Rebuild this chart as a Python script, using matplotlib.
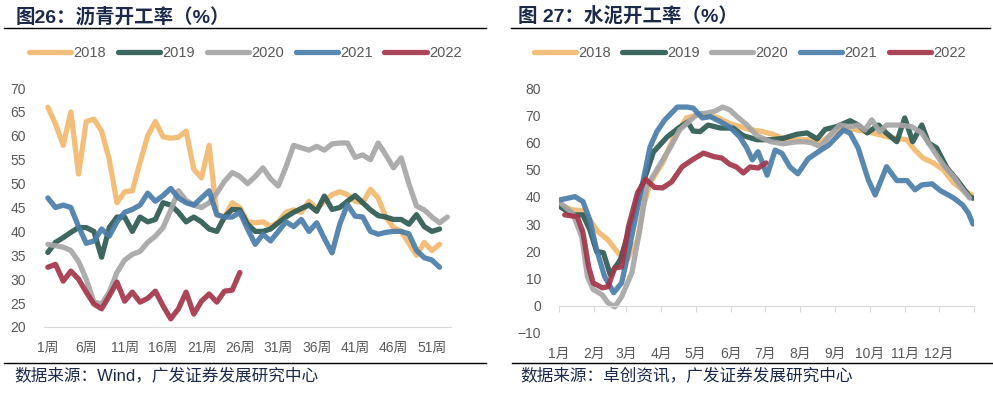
import matplotlib.pyplot as plt
from matplotlib.lines import Line2D

plt.rcParams['font.family'] = ['Liberation Sans', 'Noto Sans CJK SC']

# ---- data: 沥青开工率 (weekly) ----
asphalt_2018 = [66, 62.5, 58, 65, 52, 63, 63.5, 61, 55, 46, 48.3, 48.5, 54.4, 60, 63, 59.8, 59.5,
                59.7, 61, 53, 51.2, 58, 43.5, 43, 46, 45, 42, 41.8, 42, 41, 42, 44, 44.5, 44, 46.3,
                44.8, 46.3, 47.7, 48.3, 47.7, 46.3, 46, 48.8, 47, 43, 40.8, 40, 37.5, 35, 37.7, 36, 37.3]
asphalt_2019 = [35.6, 37.7, 38.7, 39.8, 40.8, 40.8, 40, 34.6, 40.8, 43, 43, 40, 43, 42, 42.5, 46,
                45.5, 44, 42, 43, 42, 40.5, 40, 43, 44.6, 44.5, 41.5, 40, 40, 40.5, 41.8, 43, 44,
                44.8, 45.5, 44.2, 47.4, 44.6, 45, 46.3, 47.5, 46, 44.5, 43.3, 43, 42.5, 42.5, 41.5,
                43.5, 41, 40, 40.5]
asphalt_2020 = [37.3, 37, 36.7, 36, 33.7, 30, 25.2, 24.8, 27.3, 31.4, 34, 35.2, 35.8, 37.7, 39,
                40.8, 44.5, 48.5, 46.5, 45.5, 45, 46, 48, 50.5, 52.3, 51.5, 50, 51.5, 53.3, 51, 49.5,
                53.5, 58, 57.5, 57, 57.8, 57, 58.3, 58.5, 58.5, 55.5, 56, 55, 58.5, 56, 53.3, 55.4,
                50, 45.3, 44.5, 43, 41.8, 43]
asphalt_2021 = [47, 45, 45.5, 45, 41, 37.5, 38, 40.5, 39, 42, 44, 44.6, 45.5, 48, 46.3, 47.5, 49,
                47, 46, 45.5, 47, 48.5, 43.5, 43, 43, 44, 40.5, 37.3, 39.4, 38, 40, 42, 41, 42.5, 40,
                41.8, 38.5, 35.5, 41.5, 45.6, 43.2, 43, 40, 39.4, 39.8, 40, 40, 39.5, 36, 34.5, 34,
                32.5]
asphalt_2022 = [32.5, 33.1, 29.6, 31.7, 30, 27.3, 24.8, 23.8, 26.5, 29.4, 25.4, 27.3, 25.2, 26,
                27.5, 24.4, 21.7, 23.8, 27.3, 22.7, 25.4, 26.9, 25.2, 27.5, 27.7, 31.4]
week_ticks = [0, 5, 10, 15, 20, 25, 30, 35, 40, 45, 50]
week_labels = ['1周', '6周', '11周', '16周', '21周', '26周', '31周', '36周', '41周', '46周', '51周']

# ---- data: 水泥开工率 (day of year, value) ----
cem18_day = [1, 12, 20, 27, 34, 43, 52, 60, 69, 74, 80, 91, 100, 112, 124, 139, 150, 165, 179, 188,
             197, 212, 223, 230, 241, 253, 262, 271, 282, 294, 306, 313, 320, 329, 338, 347, 355, 363]
cem18_val = [37, 35.2, 35, 31.6, 27.3, 24.2, 19.4, 17, 24.2, 36.3, 45.1, 52.5, 61, 69, 70.5, 69.2,
             67, 65, 64, 63, 61.5, 61, 61, 60, 63.5, 65.3, 64.6, 64, 62.8, 61.6, 61, 57.2, 54.3,
             52.5, 49.9, 45.1, 42.6, 40.7]
cem19_day = [1, 12, 21, 27, 33, 39, 45, 54, 61, 71, 83, 95, 105, 113, 118, 124, 131, 142, 153, 162,
             174, 186, 197, 209, 218, 227, 234, 244, 256, 263, 271, 281, 288, 297, 304, 311, 319,
             325, 332, 341, 350, 361, 364]
cem19_val = [36.4, 33.4, 33.4, 28, 20, 19.5, 11.4, 17, 27, 41.5, 56.5, 62, 65.3, 67.5, 64.2, 64,
             66.4, 65.3, 65.3, 62.5, 61, 61, 61.5, 63, 63.5, 61.3, 64.8, 65.8, 68, 66.4, 63.5, 66.4,
             63.4, 60.3, 69, 60.3, 66.4, 59.8, 58, 50.7, 46.2, 40.1, 39.5]
cem20_day = [1, 12, 20, 25, 30, 38, 43, 49, 55, 64, 71, 77, 86, 98, 106, 115, 122, 130, 137, 144,
             150, 156, 165, 174, 186, 197, 208, 215, 221, 230, 240, 247, 256, 263, 269, 275, 282,
             288, 300, 310, 319, 329, 338, 347, 355, 361]
cem20_val = [37.8, 34, 25.3, 10.6, 6, 4, 1.1, -0.4, 3.3, 12.1, 28, 43.7, 50, 58.3, 64.6, 68, 70.5,
             70.8, 71.5, 73, 72, 69.7, 66.5, 62.5, 60.3, 59.5, 60.2, 60.3, 60, 58.5, 63.5, 66.4,
             65.8, 66.4, 64.6, 68.3, 64, 66.4, 66.4, 65.8, 63.5, 57.2, 51.7, 47.4, 42.6, 39.6]
cem21_day = [1, 14, 21, 27, 33, 40, 48, 55, 62, 71, 80, 86, 93, 104, 113, 118, 126, 133, 142, 150,
             159, 165, 170, 175, 183, 190, 196, 203, 210, 219, 228, 237, 250, 256, 263, 272, 278,
             288, 297, 306, 313, 319, 328, 335, 347, 355, 360, 364]
cem21_val = [38.9, 40.1, 38.3, 31.6, 20.6, 10.8, 4.8, 8.4, 21.7, 40, 58.3, 64, 68.3, 73, 73, 72.6,
             69, 69.5, 67.6, 65.7, 62, 58, 53.6, 56.6, 48, 57.2, 56, 51, 48.5, 54, 56.6, 59, 64.6,
             63.4, 58, 46.2, 40.7, 51.1, 46, 46, 42.6, 44.4, 44.8, 42.4, 39.6, 37, 34, 30]
cem22_day = [5, 16, 21, 26, 30, 38, 43, 49, 55, 61, 69, 76, 84, 91, 99, 108, 117, 127, 136, 143,
             150, 156, 162, 168, 175, 182]
cem22_val = [33.4, 32.7, 27, 14.3, 8.4, 6.6, 7, 13.9, 14.3, 29, 41.5, 46.5, 43.5, 43.3, 45.5, 51,
             53.6, 56.1, 54.8, 54.3, 52, 51, 48.8, 51, 50.6, 52.5]
month_days = [0, 31, 59, 90, 120, 151, 181, 212, 243, 273, 304, 334, 365]
month_labels = ['1月', '2月', '3月', '4月', '5月', '6月', '7月', '8月', '9月', '10月', '11月', '12月']

years = ['2018', '2019', '2020', '2021', '2022']
colors = ['#F3B96F', '#2D5A52', '#A6A6A6', '#4A7DAA', '#A3364A']
navy = '#1B2A4A'
gray_txt = '#595959'
lw = 3.8

fig = plt.figure(figsize=(9.93, 3.93), dpi=100)

# ---------- left panel ----------
ax1 = fig.add_axes([0.0443, 0.168, 0.41, 0.608])
for vals, c, lab in zip([asphalt_2018, asphalt_2019, asphalt_2020, asphalt_2021, asphalt_2022],
                        colors, years):
    ax1.plot(range(len(vals)), vals, color=c, lw=lw, alpha=0.92, label=lab,
             solid_capstyle='round', solid_joinstyle='round')
ax1.set_xlim(-0.5, 52.5)
ax1.set_ylim(20, 70)
ax1.set_yticks(range(20, 71, 5))
ax1.set_xticks(week_ticks, week_labels)
for s in ['top', 'right', 'left']:
    ax1.spines[s].set_visible(False)
ax1.spines['bottom'].set_color('#D9D9D9')
ax1.tick_params(axis='both', length=0, labelsize=10, labelcolor=gray_txt)
ax1.tick_params(axis='x', pad=10)
ax1.tick_params(axis='y', pad=13)
ax1.legend(loc='center', bbox_to_anchor=(0.247, 0.866), bbox_transform=fig.transFigure,
           ncol=5, frameon=False, handlelength=2.9, handletextpad=0.15, columnspacing=0.8,
           fontsize=10.5, labelcolor=gray_txt)

# ---------- right panel ----------
ax2 = fig.add_axes([0.563, 0.1527, 0.418, 0.6233])
for d, v, c, lab in zip([cem18_day, cem19_day, cem20_day, cem21_day, cem22_day],
                        [cem18_val, cem19_val, cem20_val, cem21_val, cem22_val], colors, years):
    ax2.plot(d, v, color=c, lw=lw, alpha=0.92, label=lab,
             solid_capstyle='round', solid_joinstyle='round')
ax2.set_xlim(0, 365)
ax2.set_ylim(-10, 80)
ax2.set_yticks(range(-10, 81, 10))
for s in ['top', 'right', 'left']:
    ax2.spines[s].set_visible(False)
ax2.spines['bottom'].set_position(('data', 0))
ax2.spines['bottom'].set_color('#D9D9D9')
ax2.set_xticks(month_days)
ax2.tick_params(axis='x', length=4, color='#D9D9D9', labelbottom=False)
ax2.tick_params(axis='y', length=0, labelsize=10, labelcolor=gray_txt, pad=13)
sec = ax2.secondary_xaxis('bottom')
sec.set_xticks(month_days[:12], month_labels)
sec.spines['bottom'].set_visible(False)
sec.tick_params(length=0, labelsize=10, labelcolor=gray_txt, pad=10)
ax2.legend(loc='center', bbox_to_anchor=(0.755, 0.866), bbox_transform=fig.transFigure,
           ncol=5, frameon=False, handlelength=2.9, handletextpad=0.15, columnspacing=0.8,
           fontsize=10.5, labelcolor=gray_txt)

# ---------- titles, rules, sources ----------
fig.text(0.016, 0.958, '图26：沥青开工率（%）', fontsize=14, fontweight='bold', color=navy,
         va='center', ha='left')
fig.text(0.522, 0.958, '图 27：水泥开工率（%）', fontsize=14, fontweight='bold', color=navy,
         va='center', ha='left')
fig.add_artist(Line2D([0.004, 0.489], [0.929, 0.929], transform=fig.transFigure, color='black', lw=1))
fig.add_artist(Line2D([0.515, 0.997], [0.929, 0.929], transform=fig.transFigure, color='black', lw=1))
fig.add_artist(Line2D([0.004, 0.489], [0.076, 0.076], transform=fig.transFigure, color='black', lw=1))
fig.add_artist(Line2D([0.516, 1.0], [0.076, 0.076], transform=fig.transFigure, color='black', lw=1))
fig.text(0.014, 0.044, '数据来源：Wind，广发证券发展研究中心', fontsize=12, color=navy,
         va='center', ha='left')
fig.text(0.524, 0.044, '数据来源：卓创资讯，广发证券发展研究中心', fontsize=12, color=navy,
         va='center', ha='left')

fig.savefig('out.png', dpi=100)
